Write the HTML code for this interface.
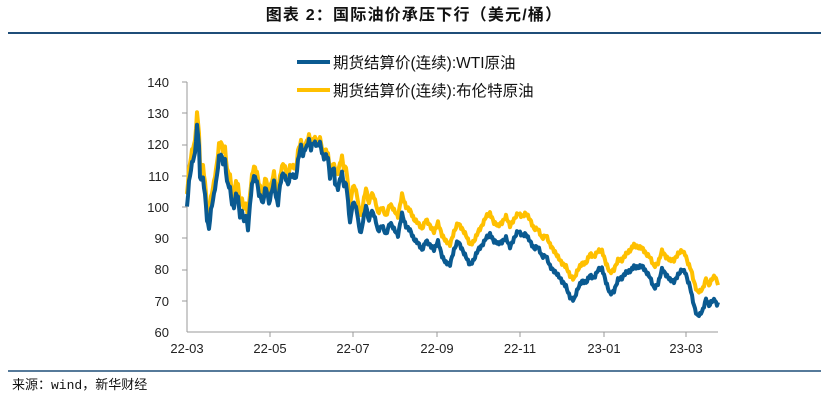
<!DOCTYPE html>
<html><head><meta charset="utf-8"><style>
body{margin:0;background:#fff;width:829px;height:401px;overflow:hidden;font-family:"Liberation Sans","Noto Sans CJK SC",sans-serif}
</style></head><body>
<svg width="829" height="401" xmlns="http://www.w3.org/2000/svg" style="position:absolute;left:0;top:0">
<text x="414" y="20" text-anchor="middle" font-size="16" letter-spacing="1.2" font-weight="bold" fill="#111" font-family="Liberation Sans,Noto Sans CJK SC,sans-serif">图表 2：国际油价承压下行（美元/桶）</text>
<line x1="8" y1="33" x2="821" y2="33" stroke="#1f4e79" stroke-width="2"/>
<line x1="8" y1="371" x2="821" y2="371" stroke="#1f4e79" stroke-width="1.5"/>
<text x="12" y="389" font-size="13" fill="#111" font-family="Liberation Mono,Noto Sans CJK SC,monospace">来源：wind，新华财经</text>
<g font-size="13" fill="#222" text-anchor="end" font-family="Liberation Sans,sans-serif">
<text x="169" y="87">140</text><text x="169" y="118">130</text><text x="169" y="149">120</text><text x="169" y="181">110</text><text x="169" y="212">100</text><text x="169" y="243">90</text><text x="169" y="274">80</text><text x="169" y="306">70</text><text x="169" y="337">60</text>
</g>
<g stroke="#999" stroke-width="1">
<line x1="187" y1="82" x2="187" y2="332"/><line x1="187" y1="332" x2="718" y2="332"/>
<line x1="182" y1="82" x2="187" y2="82"/><line x1="182" y1="113" x2="187" y2="113"/><line x1="182" y1="145" x2="187" y2="145"/><line x1="182" y1="176" x2="187" y2="176"/><line x1="182" y1="207" x2="187" y2="207"/><line x1="182" y1="238" x2="187" y2="238"/><line x1="182" y1="270" x2="187" y2="270"/><line x1="182" y1="301" x2="187" y2="301"/>
<line x1="270" y1="332" x2="270" y2="337"/><line x1="353" y1="332" x2="353" y2="337"/><line x1="437" y1="332" x2="437" y2="337"/><line x1="520" y1="332" x2="520" y2="337"/><line x1="604" y1="332" x2="604" y2="337"/><line x1="686" y1="332" x2="686" y2="337"/>
</g>
<g font-size="13" fill="#222" text-anchor="middle" font-family="Liberation Sans,sans-serif">
<text x="187" y="353">22-03</text><text x="270" y="353">22-05</text><text x="353" y="353">22-07</text><text x="437" y="353">22-09</text><text x="520" y="353">22-11</text><text x="604" y="353">23-01</text><text x="686" y="353">23-03</text>
</g>
<line x1="297" y1="62" x2="330" y2="62" stroke="#0a5a91" stroke-width="4"/>
<text x="333" y="68" font-size="15.5" fill="#111" font-family="Liberation Sans,Noto Sans CJK SC,sans-serif">期货结算价(连续):WTI原油</text>
<line x1="297" y1="90" x2="330" y2="90" stroke="#ffc000" stroke-width="4"/>
<text x="333" y="96" font-size="15.5" fill="#111" font-family="Liberation Sans,Noto Sans CJK SC,sans-serif">期货结算价(连续):布伦特原油</text>
<polyline id="b" fill="none" stroke="#ffc000" stroke-width="4" stroke-linejoin="round"/>
<polyline id="w" fill="none" stroke="#0a5a91" stroke-width="4" stroke-linejoin="round"/>
</svg>
<script>
var k=[[187,104],[189,112],[192,118],[195,121],[197,130],[199,124],[200,113],[203,113],[205,108],[207,100],[209,97],[211,103],[214,108],[217,114],[219,120],[221,121],[223,118],[225,119],[227,112],[230,110],[232,105],[234,104],[236,108],[238,107],[240,101],[242,103],[244,99],[246,101],[248,97],[250,104],[252,110],[254,113],[257,111],[259,107],[261,106],[263,104],[265,109],[267,108],[269,104],[271,107],[274,111],[276,106],[278,104],[280,110],[283,114],[286,112],[288,110],[290,113],[293,113],[296,112],[298,118],[301,121],[303,118],[305,120],[307,121],[309,123],[311,120],[313,122],[315,122],[317,121],[320,122],[322,119],[324,117],[326,118],[328,117],[330,111],[333,114],[336,112],[338,111],[340,114],[342,116],[344,112],[346,113],[348,107],[350,100],[352,105],[354,107],[357,104],[359,99],[361,97],[363,101],[366,106],[369,101],[371,104],[373,104],[376,101],[378,98],[382,100],[386,97],[390,101],[394,99],[398,97],[402,104],[406,100],[410,99],[414,96],[418,95],[422,93],[426,96],[430,94],[434,92],[438,95],[442,91],[446,89],[450,88],[454,92],[458,95],[462,93],[466,91],[470,88],[474,89],[478,92],[482,94],[486,97],[490,98],[494,95],[498,94],[502,95],[506,97],[510,94],[514,96],[518,98],[522,97],[526,98],[530,96],[534,93],[538,93],[542,90],[546,91],[550,88],[554,86],[558,84],[562,82],[566,81],[570,78],[574,77],[578,80],[582,82],[586,82],[590,85],[594,84],[598,86],[602,86],[606,82],[610,79],[614,80],[618,83],[622,83],[626,85],[630,86],[634,88],[638,87],[642,87],[646,85],[650,84],[654,81],[658,82],[662,86],[666,84],[670,83],[674,83],[678,85],[682,86],[685,85],[688,82],[691,80],[694,76],[697,73],[700,73],[703,74],[706,77],[709,75],[712,77],[715,78],[718,75]];
function sp(x){if(x<250)return 4;if(x<300)return 3;if(x<335)return 1.5;if(x<420)return 5+(x-335)/85*1.5;return 6.3+Math.sin(x*0.3)*0.6;}
function Y(v){return 332-(v-60)*3.125}
var b=[],w=[];
for(var i=0;i<k.length-1;i++){var a=k[i],c=k[i+1];for(var x=a[0];x<c[0];x+=1){var t=(x-a[0])/(c[0]-a[0]);var v=a[1]+(c[1]-a[1])*t+Math.sin(x*2.3)*0.5;b.push(x+','+Y(v).toFixed(1));w.push(x+','+Y(v-sp(x)-(x>690?0.8:0)).toFixed(1));}}
b.push('718,'+Y(75));w.push('718,'+Y(69.5));
document.getElementById('b').setAttribute('points',b.join(' '));
document.getElementById('w').setAttribute('points',w.join(' '));
</script>
</body></html>
